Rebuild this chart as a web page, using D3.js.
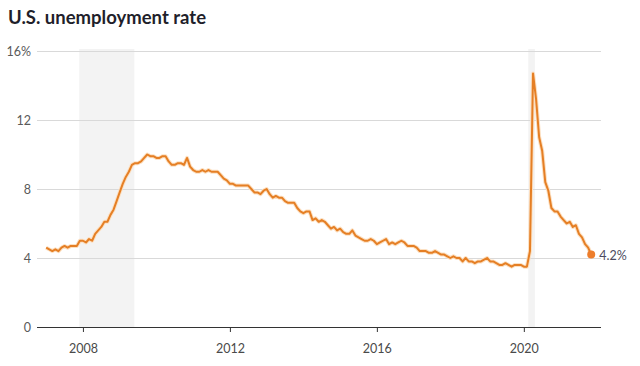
<!DOCTYPE html>
<html>
<head>
<meta charset="utf-8">
<script src="https://cdn.jsdelivr.net/npm/d3@7"></script>
<style>
  body { margin: 0; background: #fff; }
  svg { font-family: Lato, "Open Sans", sans-serif; }
</style>
</head>
<body>
<svg width="640" height="366"></svg>
<script>
// monthly rate, Jan 2007 .. Nov 2021
const startYear = 2007
const rates = [
  4.6,4.5,4.4,4.5,4.4,4.6,4.7,4.6,4.7,4.7,4.7,5.0,
  5.0,4.9,5.1,5.0,5.4,5.6,5.8,6.1,6.1,6.5,6.8,7.3,
  7.8,8.3,8.7,9.0,9.4,9.5,9.5,9.6,9.8,10.0,9.9,9.9,
  9.8,9.8,9.9,9.9,9.6,9.4,9.4,9.5,9.5,9.4,9.8,9.3,
  9.1,9.0,9.0,9.1,9.0,9.1,9.0,9.0,9.0,8.8,8.6,8.5,
  8.3,8.3,8.2,8.2,8.2,8.2,8.2,8.0,7.8,7.8,7.7,7.9,
  8.0,7.7,7.5,7.6,7.5,7.5,7.3,7.2,7.2,7.2,6.9,6.7,
  6.6,6.7,6.7,6.2,6.3,6.1,6.2,6.1,5.9,5.7,5.8,5.6,
  5.7,5.5,5.4,5.4,5.6,5.3,5.2,5.1,5.0,5.0,5.1,5.0,
  4.8,4.9,5.0,5.1,4.8,4.9,4.8,4.9,5.0,4.9,4.7,4.7,
  4.7,4.6,4.4,4.4,4.4,4.3,4.3,4.4,4.3,4.2,4.2,4.1,
  4.0,4.1,4.0,4.0,3.8,4.0,3.8,3.8,3.7,3.8,3.8,3.9,
  4.0,3.8,3.8,3.7,3.6,3.6,3.7,3.6,3.5,3.6,3.6,3.6,
  3.5,3.5,4.4,14.7,13.2,11.0,10.2,8.4,7.9,6.9,6.7,6.7,
  6.4,6.2,6.0,6.1,5.8,5.9,5.4,5.2,4.8,4.6,4.2
]
const recessions = [[2007.9, 2009.4], [2020.12, 2020.3]]
const yTicks = [0, 4, 8, 12, 16]
const xTicks = [2008, 2012, 2016, 2020]

const svg = d3.select('svg')
const margin = {left: 37, right: 39, top: 51, bottom: 39}
const width = +svg.attr('width')
const height = +svg.attr('height')
const innerWidth = width - margin.left - margin.right
const innerHeight = height - margin.top - margin.bottom

const data = rates.map((v, i) => ({t: startYear + i / 12, v}))

const xScale = d3.scaleLinear()
  .domain([2006.75, 2022.1])
  .range([0, innerWidth])

const yScale = d3.scaleLinear()
  .domain([0, 16])
  .range([innerHeight, 0])

svg.append('text')
  .attr('x', 8).attr('y', 24)
  .attr('font-size', 18.5).attr('font-weight', 700)
  .attr('fill', '#1f1f2b')
  .text('U.S. unemployment rate')

const g = svg.append('g')
  .attr('transform', `translate(${margin.left}, ${margin.top})`)

g.selectAll('.rec')
  .data(recessions)
  .enter().append('rect')
  .attr('x', d => xScale(d[0]))
  .attr('width', d => xScale(d[1]) - xScale(d[0]))
  .attr('y', yScale(16) - 2)
  .attr('height', yScale(0) - yScale(16) + 2)
  .attr('fill', '#f3f3f3')

// gridlines + y labels
const yAxis = g.append('g')
  .call(d3.axisLeft(yScale).tickValues(yTicks).tickSize(-innerWidth)
    .tickFormat(d => d === 16 ? '16%' : d))
yAxis.select('.domain').remove()
yAxis.selectAll('.tick line').attr('stroke', '#d9d9d9')
  .filter(d => d === 0).remove()
yAxis.selectAll('.tick text')
  .attr('x', -6)
  .attr('font-size', 12.5).attr('fill', '#5a5a5a')
  .attr('font-family', 'Lato, sans-serif')

const xAxis = g.append('g')
  .attr('transform', `translate(0, ${innerHeight})`)
  .call(d3.axisBottom(xScale).tickValues(xTicks).tickSize(5).tickFormat(d3.format('d')))
xAxis.select('.domain').attr('stroke', '#333').attr('stroke-width', 1.2)
  .attr('d', `M0,0.5H${innerWidth}`)
xAxis.selectAll('.tick line').attr('stroke', '#333').attr('y1', 0)
xAxis.selectAll('.tick text')
  .attr('dy', '1.4em')
  .attr('font-size', 12.5).attr('fill', '#4a4a4a')
  .attr('font-family', 'Lato, sans-serif')

const line = d3.line()
  .x(d => xScale(d.t))
  .y(d => yScale(d.v))

g.append('path')
  .datum(data)
  .attr('fill', 'none')
  .attr('stroke', '#fce0c2')
  .attr('stroke-width', 4)
  .attr('stroke-linejoin', 'round')
  .attr('d', line)

g.append('path')
  .datum(data)
  .attr('fill', 'none')
  .attr('stroke', '#e57f25')
  .attr('stroke-width', 2)
  .attr('stroke-linejoin', 'round')
  .attr('d', line)

const last = data[data.length - 1]
g.append('circle')
  .attr('cx', xScale(last.t))
  .attr('cy', yScale(last.v))
  .attr('r', 4)
  .attr('fill', '#ed7d2b')

g.append('text')
  .attr('x', xScale(last.t) + 8)
  .attr('y', yScale(last.v) + 5)
  .attr('font-size', 12.5)
  .attr('fill', '#4b4b5e')
  .text(last.v + '%')
</script>
</body>
</html>
